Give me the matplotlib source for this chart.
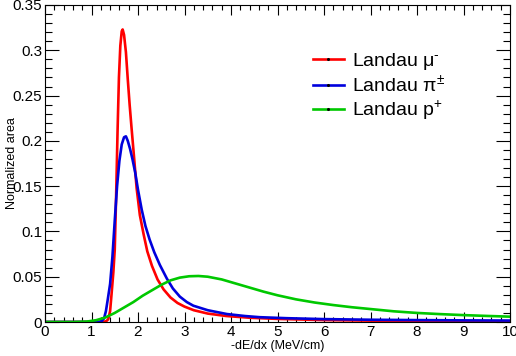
import matplotlib
matplotlib.use('Agg')
import matplotlib.pyplot as plt
from matplotlib.lines import Line2D
from matplotlib.ticker import MultipleLocator

plt.rcParams['font.family'] = ['Liberation Sans', 'DejaVu Sans']
plt.rcParams['mathtext.fontset'] = 'custom'
plt.rcParams['mathtext.rm'] = 'Liberation Sans'
plt.rcParams['mathtext.it'] = 'Liberation Sans'
plt.rcParams['mathtext.sf'] = 'Liberation Sans'

# Landau muon
mu_x = [0, 1.25, 1.32, 1.36, 1.40, 1.43, 1.47, 1.50, 1.53, 1.56, 1.59, 1.62, 1.65, 1.67,
        1.70, 1.74, 1.78, 1.82, 1.86, 1.91, 1.97, 2.04, 2.12, 2.20, 2.30, 2.42, 2.55, 2.70,
        2.85, 3.0, 3.2, 3.5, 3.9, 4.4, 5.0, 6.0, 7.0, 8.0, 9.0, 10]
mu_y = [0, 0, 0.001, 0.003, 0.012, 0.030, 0.055, 0.080, 0.140, 0.210, 0.270, 0.305, 0.321, 0.323,
        0.317, 0.298, 0.268, 0.240, 0.215, 0.185, 0.148, 0.118, 0.097, 0.078, 0.062, 0.047, 0.036, 0.027,
        0.021, 0.017, 0.013, 0.0093, 0.0066, 0.0047, 0.0034, 0.0021, 0.0015, 0.0011, 0.0009, 0.0007]

# Landau pion
pi_x = [0, 1.15, 1.22, 1.27, 1.31, 1.35, 1.40, 1.45, 1.50, 1.55, 1.60, 1.65, 1.70, 1.74,
        1.78, 1.83, 1.88, 1.94, 2.00, 2.08, 2.16, 2.25, 2.35, 2.47, 2.62, 2.75, 2.90, 3.05,
        3.19, 3.5, 3.91, 4.3, 4.62, 5.2, 6.0, 7.0, 8.0, 9.0, 10]
pi_y = [0, 0, 0.001, 0.004, 0.012, 0.025, 0.042, 0.072, 0.112, 0.150, 0.178, 0.196, 0.204, 0.205,
        0.200, 0.191, 0.180, 0.165, 0.146, 0.124, 0.106, 0.091, 0.077, 0.063, 0.048, 0.037, 0.028, 0.022,
        0.018, 0.013, 0.0088, 0.0066, 0.0053, 0.0042, 0.0032, 0.0025, 0.0021, 0.0018, 0.0016]

# Landau proton
p_x = [0, 0.6, 0.9, 1.1, 1.3, 1.5, 1.7, 1.9, 2.1, 2.3, 2.5, 2.7, 2.9, 3.1, 3.3, 3.5, 3.8,
       4.1, 4.4, 4.7, 5.0, 5.4, 5.8, 6.2, 6.6, 7.0, 7.5, 8.0, 8.5, 9.0, 9.5, 10]
p_y = [0, 0, 0.0005, 0.002, 0.005, 0.010, 0.016, 0.022, 0.029, 0.035, 0.041, 0.046, 0.049, 0.0505,
       0.0508, 0.050, 0.047, 0.0425, 0.038, 0.0335, 0.0295, 0.025, 0.0215, 0.0187, 0.0163, 0.0143,
       0.0118, 0.0100, 0.0087, 0.0076, 0.0067, 0.0059]

labels = ['Landau μ$^{\\text{-}}$', 'Landau π$^{\\pm}$', 'Landau p$^{+}$']
colors = ['#ff0000', '#0000dd', '#00c800']

fig = plt.figure(figsize=(5.16, 3.56), dpi=100)
ax = fig.add_axes([45 / 516, 34 / 356, 465 / 516, 317 / 356])

for xs, ys, c in zip([mu_x, pi_x, p_x], [mu_y, pi_y, p_y], colors):
    ax.plot(xs, ys, color=c, lw=1.9)

ax.set_xlim(0, 10)
ax.set_ylim(0, 0.35)
ax.xaxis.set_major_locator(MultipleLocator(1))
ax.xaxis.set_minor_locator(MultipleLocator(0.2))
ax.yaxis.set_major_locator(MultipleLocator(0.05))
ax.yaxis.set_minor_locator(MultipleLocator(0.01))
ax.set_xticks(range(11))
ax.set_xticklabels([str(i) for i in range(11)])
ax.set_yticks([0, 0.05, 0.1, 0.15, 0.2, 0.25, 0.3, 0.35])
ax.set_yticklabels(['0', '0.05', '0.1', '0.15', '0.2', '0.25', '0.3', '0.35'])

ax.tick_params(axis='both', which='both', direction='in', top=True, right=True,
               width=0.8, labelsize=11)
ax.tick_params(axis='x', which='major', length=7, pad=2)
ax.tick_params(axis='x', which='minor', length=3.5)
ax.tick_params(axis='y', which='major', length=10, pad=2)
ax.tick_params(axis='y', which='minor', length=5)
for s in ax.spines.values():
    s.set_linewidth(0.8)

ax.set_xlabel('-dE/dx (MeV/cm)', fontsize=9, labelpad=1)
ax.set_ylabel('Normalized area', fontsize=9)
ax.yaxis.set_label_coords(-0.058, 0.5)

handles = [Line2D([], [], color=c, lw=1.9, marker='o', markersize=1.2,
                  markerfacecolor='black', markeredgecolor='black') for c in colors]
ax.legend(handles, labels, loc='upper left', bbox_to_anchor=(0.559, 0.88),
          frameon=False, fontsize=14, handlelength=1.6, handletextpad=0.4,
          labelspacing=0.15, borderaxespad=0)

fig.savefig('out.png', dpi=100)
